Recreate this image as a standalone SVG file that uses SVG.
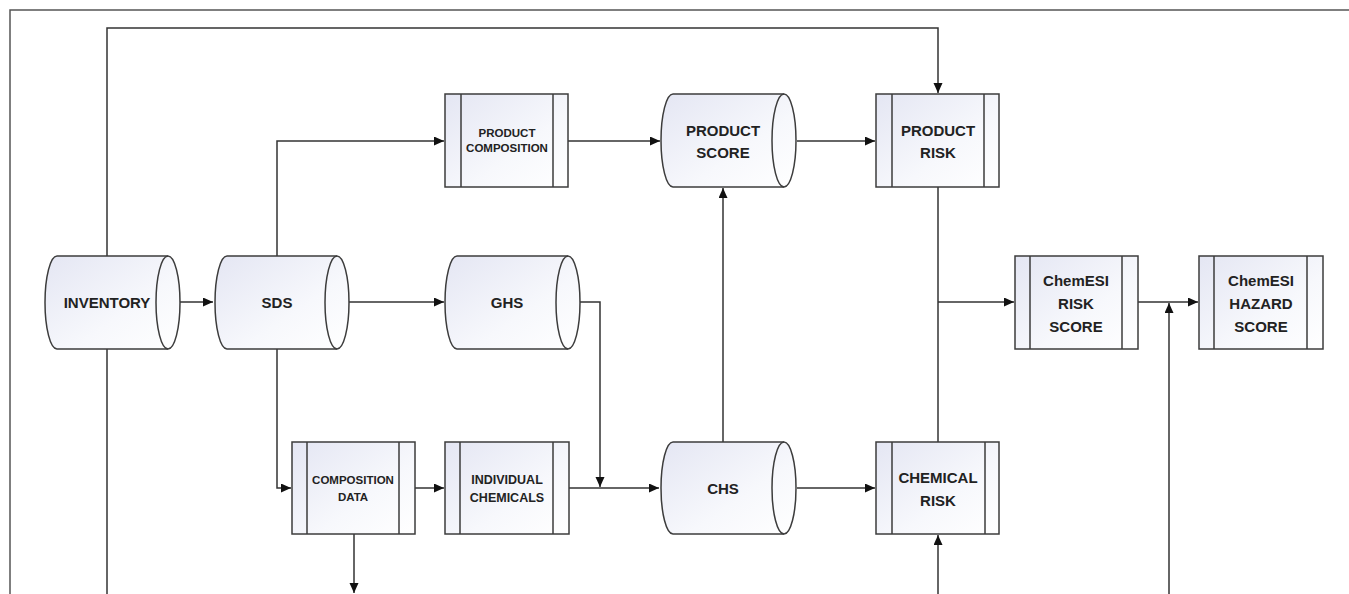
<svg xmlns="http://www.w3.org/2000/svg" width="1349" height="594" viewBox="0 0 1349 594">
<defs>
<linearGradient id="g" x1="0" y1="0" x2="1" y2="1">
<stop offset="0" stop-color="#e4e6f3"/>
<stop offset="0.6" stop-color="#f7f8fc"/>
<stop offset="1" stop-color="#ffffff"/>
</linearGradient>
<marker id="ah" markerUnits="userSpaceOnUse" markerWidth="11" markerHeight="10" refX="10" refY="4.5" orient="auto">
<path d="M0,0 L10,4.5 L0,9 Z" fill="#111"/>
</marker>
<style>
.shape{fill:url(#g);stroke:#3c3c3c;stroke-width:1.5}
.ln{fill:none;stroke:#3c3c3c;stroke-width:1.5}
.t{font-family:"Liberation Sans",Arial,sans-serif;font-weight:bold;fill:#222;text-anchor:middle}
.f15{font-size:15px}
.f12{font-size:12.5px}
.f11{font-size:11.5px}
.c{fill:none;stroke:#333;stroke-width:1.5}
.a{marker-end:url(#ah)}
</style>
</defs>
<rect width="1349" height="594" fill="#fff"/>
<path d="M10,594 V10 H1349" fill="none" stroke="#555" stroke-width="1.5"/>

<g id="connectors">
<path class="c a" d="M107,256 V28 H938 V93"/>
<path class="c a" d="M168,302 H213"/>
<path class="c" d="M107,349 V594"/>
<path class="c a" d="M277,256 V141 H444"/>
<path class="c a" d="M349,302 H444"/>
<path class="c a" d="M277,349 V488 H291"/>
<path class="c a" d="M568,302 H600 V487"/>
<path class="c a" d="M568,141 H660"/>
<path class="c a" d="M797,141 H875"/>
<path class="c" d="M938,187 V442"/>
<path class="c a" d="M938,302 H1014"/>
<path class="c a" d="M1138,302 H1198"/>
<path class="c a" d="M1169,594 V303"/>
<path class="c a" d="M415,488 H444"/>
<path class="c a" d="M569,488 H659"/>
<path class="c a" d="M723,442 V188"/>
<path class="c a" d="M797,488 H875"/>
<path class="c a" d="M938,594 V535"/>
<path class="c a" d="M354,534 V593"/>
</g>

<g id="inventory">
<path class="shape" d="M57,256 L168,256 A12,46.5 0 0 1 168,349 L57,349 A12,46.5 0 0 1 57,256 Z"/>
<path class="ln" d="M168,256 A12,46.5 0 0 0 168,349"/>
<text class="t f15" x="107" y="308">INVENTORY</text>
</g>

<g id="sds">
<path class="shape" d="M227,256 L337,256 A12,46.5 0 0 1 337,349 L227,349 A12,46.5 0 0 1 227,256 Z"/>
<path class="ln" d="M337,256 A12,46.5 0 0 0 337,349"/>
<text class="t f15" x="277" y="308">SDS</text>
</g>

<g id="ghs">
<path class="shape" d="M457,256 L568,256 A12,46.5 0 0 1 568,349 L457,349 A12,46.5 0 0 1 457,256 Z"/>
<path class="ln" d="M568,256 A12,46.5 0 0 0 568,349"/>
<text class="t f15" x="507" y="308">GHS</text>
</g>

<g id="product-score">
<path class="shape" d="M673,94 L784,94 A12,46.5 0 0 1 784,187 L673,187 A12,46.5 0 0 1 673,94 Z"/>
<path class="ln" d="M784,94 A12,46.5 0 0 0 784,187"/>
<text class="t f15" x="723" y="135.5">PRODUCT</text>
<text class="t f15" x="723" y="157.5">SCORE</text>
</g>

<g id="chs">
<path class="shape" d="M673,442 L784,442 A12,46 0 0 1 784,534 L673,534 A12,46 0 0 1 673,442 Z"/>
<path class="ln" d="M784,442 A12,46 0 0 0 784,534"/>
<text class="t f15" x="723" y="493.5">CHS</text>
</g>

<g id="product-composition">
<rect class="shape" x="445" y="94" width="123" height="93"/>
<path class="ln" d="M461,94 V187 M553,94 V187"/>
<text class="t f11" x="507" y="137">PRODUCT</text>
<text class="t f11" x="507" y="152">COMPOSITION</text>
</g>

<g id="product-risk">
<rect class="shape" x="876" y="94" width="123" height="93"/>
<path class="ln" d="M892,94 V187 M984,94 V187"/>
<text class="t f15" x="938" y="135.5">PRODUCT</text>
<text class="t f15" x="938" y="157.5">RISK</text>
</g>

<g id="chemesi-risk-score">
<rect class="shape" x="1015" y="256" width="123" height="93"/>
<path class="ln" d="M1030,256 V349 M1122,256 V349"/>
<text class="t f15" x="1076" y="285.5">ChemESI</text>
<text class="t f15" x="1076" y="308.5">RISK</text>
<text class="t f15" x="1076" y="332">SCORE</text>
</g>

<g id="chemesi-hazard-score">
<rect class="shape" x="1199" y="256" width="124" height="93"/>
<path class="ln" d="M1214,256 V349 M1307,256 V349"/>
<text class="t f15" x="1261" y="285.5">ChemESI</text>
<text class="t f15" x="1261" y="308.5">HAZARD</text>
<text class="t f15" x="1261" y="332">SCORE</text>
</g>

<g id="composition-data">
<rect class="shape" x="292" y="442" width="123" height="92"/>
<path class="ln" d="M307,442 V534 M399,442 V534"/>
<text class="t f11" x="353" y="484">COMPOSITION</text>
<text class="t f11" x="353" y="501">DATA</text>
</g>

<g id="individual-chemicals">
<rect class="shape" x="445" y="442" width="124" height="92"/>
<path class="ln" d="M460,442 V534 M553,442 V534"/>
<text class="t f12" x="507" y="483.5">INDIVIDUAL</text>
<text class="t f12" x="507" y="501.5">CHEMICALS</text>
</g>

<g id="chemical-risk">
<rect class="shape" x="876" y="442" width="123" height="92"/>
<path class="ln" d="M892,442 V534 M985,442 V534"/>
<text class="t f15" x="938" y="482.5">CHEMICAL</text>
<text class="t f15" x="938" y="505.5">RISK</text>
</g>
</svg>
